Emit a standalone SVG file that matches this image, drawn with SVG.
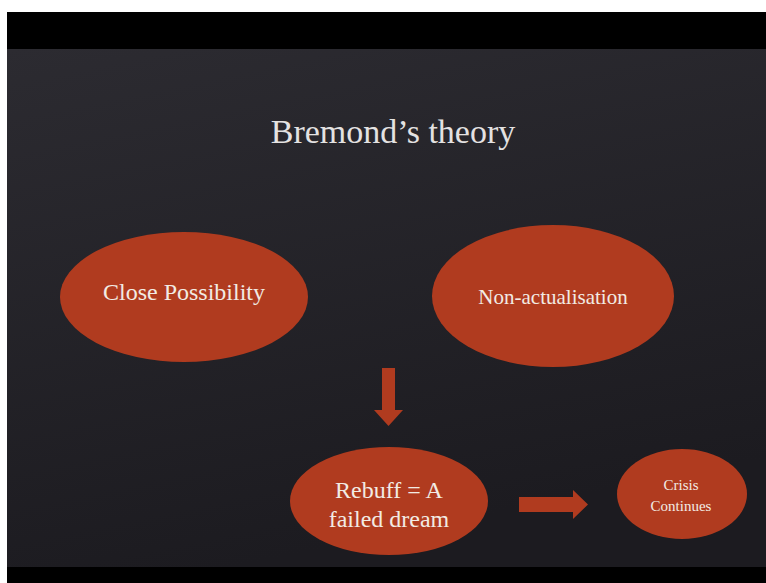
<svg xmlns="http://www.w3.org/2000/svg" width="766" height="583" viewBox="0 0 766 583">
<defs>
<style>
.node{fill:#b03b1f;}
.lbl{fill:#f2ebe4;text-anchor:middle;}
.arrow{fill:#b03b1f;}
</style>
<linearGradient id="bg" x1="0" y1="0" x2="0.3" y2="1">
<stop offset="0" stop-color="#2c2b31"/>
<stop offset="1" stop-color="#1c1b20"/>
</linearGradient>
</defs>
<rect x="0" y="0" width="766" height="583" fill="#ffffff"/>
<rect x="7" y="12" width="759" height="37" fill="#000000"/>
<rect x="7" y="49" width="759" height="518" fill="url(#bg)"/>
<rect x="7" y="567" width="759" height="16" fill="#000000"/>
<g font-family="'Liberation Serif', 'DejaVu Serif', serif">
<text class="lbl" x="393" y="143" font-size="34" style="fill:#e4e2e2">Bremond’s theory</text>
<g id="close-possibility">
<ellipse class="node" cx="184" cy="297" rx="124" ry="65"/>
<text class="lbl" x="184" y="300" font-size="24">Close Possibility</text>
</g>
<g id="non-actualisation">
<ellipse class="node" cx="553" cy="296" rx="121" ry="71"/>
<text class="lbl" x="553" y="304" font-size="21">Non-actualisation</text>
</g>
<g id="rebuff">
<ellipse class="node" cx="389" cy="501" rx="99" ry="54"/>
<text class="lbl" x="389" y="498" font-size="24">Rebuff = A</text>
<text class="lbl" x="389" y="527" font-size="24">failed dream</text>
</g>
<g id="crisis">
<ellipse class="node" cx="682" cy="494" rx="65" ry="45"/>
<text class="lbl" x="681" y="490" font-size="15">Crisis</text>
<text class="lbl" x="681" y="511" font-size="15">Continues</text>
</g>
</g>
<g id="connectors">
<polygon class="arrow" points="382,368 395,368 395,410 403,410 388.5,426 374,410 382,410"/>
<polygon class="arrow" points="519,497 573,497 573,490 588,504.5 573,519 573,512 519,512"/>
</g>
</svg>
